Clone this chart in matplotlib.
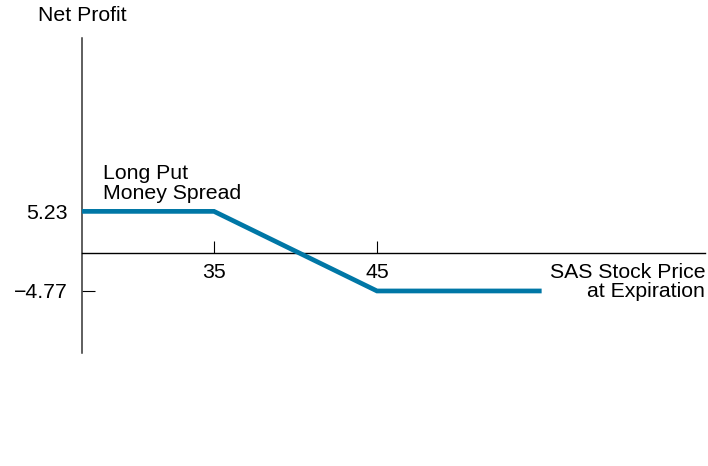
import matplotlib
matplotlib.use("Agg")
import matplotlib.pyplot as plt

plt.rcParams['font.family'] = ['Liberation Sans', 'DejaVu Sans']

# Payoff of the long put money spread at expiration
stock_price = [26.9, 35, 45, 55.1]
net_profit = [5.23, 5.23, -4.77, -4.77]
x_ticks = [35, 45]
y_ticks = [5.23, -4.77]
y_tick_labels = ['5.23', '\u22124.77']

fs = 15.3

fig = plt.figure(figsize=(7.08, 4.66), dpi=100)
ax = fig.add_axes([0, 0, 1, 1])

# pixel -> data mapping: 16.3 px per $ on x, 7.96 px per $ on y
ax.set_xlim(35 - 214 / 16.3, 35 + 494 / 16.3)
ax.set_ylim(-(466 - 253) / 7.96, 253 / 7.96)

ax.plot(stock_price, net_profit, color='#0077a6', lw=3.4, solid_capstyle='butt',
        solid_joinstyle='miter', zorder=3)

for side in ['top', 'right']:
    ax.spines[side].set_visible(False)
ax.spines['left'].set_position(('data', stock_price[0]))
ax.spines['left'].set_bounds(-12.5, 27.0)
ax.spines['bottom'].set_position(('data', 0))
ax.spines['bottom'].set_bounds(stock_price[0], 65.1)
ax.spines['left'].set_linewidth(1.1)
ax.spines['left'].set_color('#333333')
ax.spines['bottom'].set_linewidth(1.0)

ax.set_xticks(x_ticks)
ax.set_xticklabels([str(t) for t in x_ticks])
ax.set_yticks(y_ticks)
ax.set_yticklabels(y_tick_labels)
ax.tick_params(axis='x', direction='in', length=9, width=0.8, pad=7, labelsize=fs)
ax.tick_params(axis='y', direction='in', length=9, width=0.8, pad=10, labelsize=fs)

ax.text(0.054, 0.966, 'Net Profit', transform=ax.transAxes, fontsize=fs,
        ha='left', va='center')
ax.text(0.145, 0.607, 'Long Put\nMoney Spread', transform=ax.transAxes,
        fontsize=fs, ha='left', va='center', linespacing=1.05)
ax.text(0.996, 0.395, 'SAS Stock Price\nat Expiration', transform=ax.transAxes,
        fontsize=fs, ha='right', va='center', multialignment='right',
        linespacing=1.05)

fig.savefig('out.png', dpi=100)
